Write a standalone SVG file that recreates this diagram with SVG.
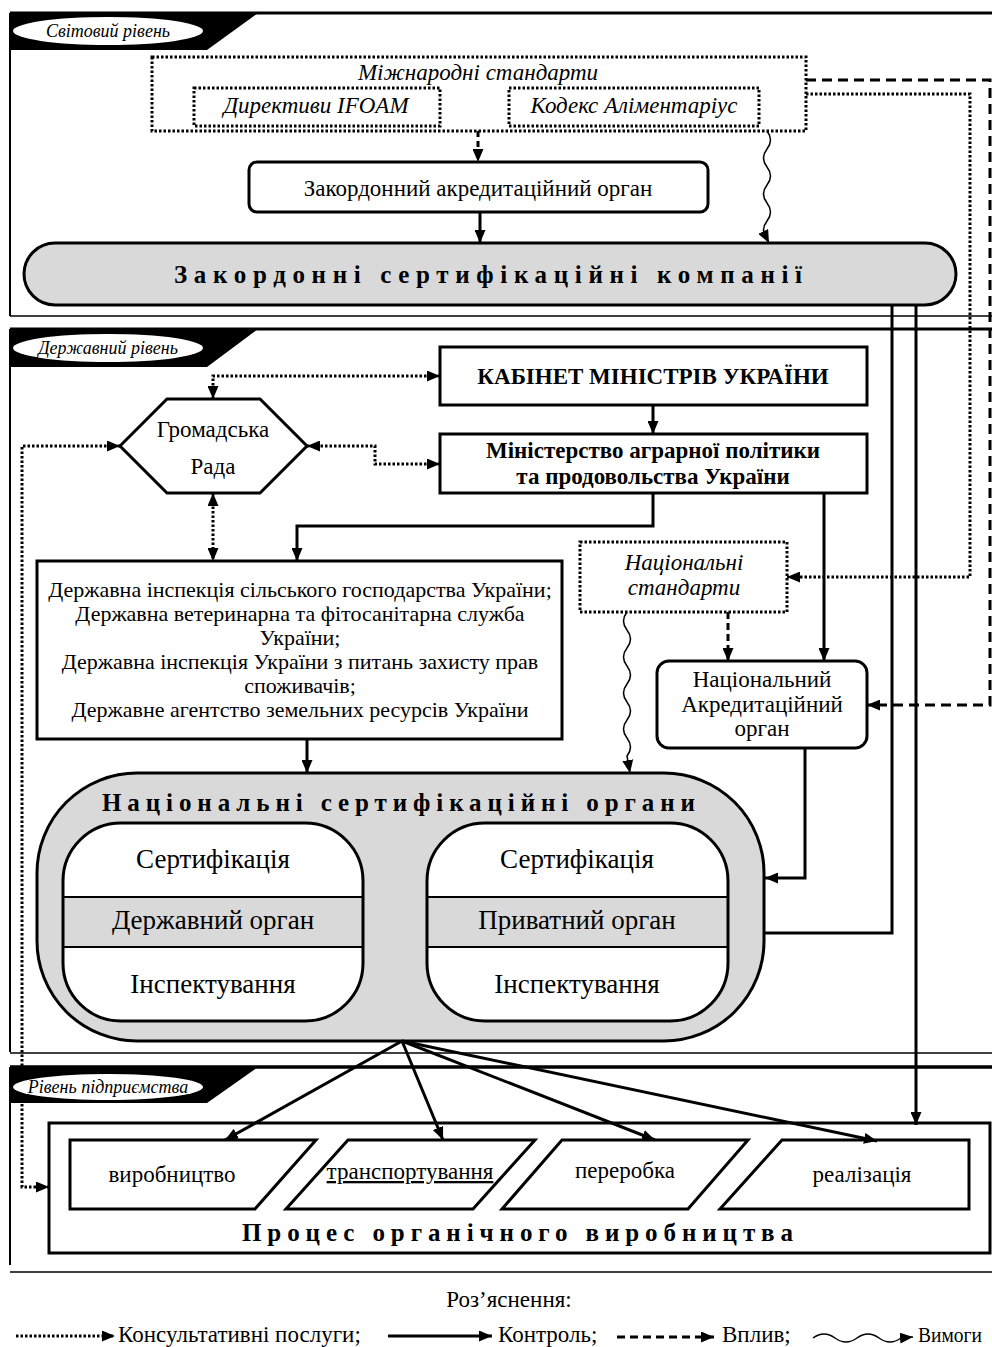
<svg xmlns="http://www.w3.org/2000/svg" width="992" height="1347" viewBox="0 0 992 1347">
<style>
.s{font-family:"Liberation Serif","Times New Roman",serif;fill:#000}
.i{font-style:italic}
.b{font-weight:bold}
.m{text-anchor:middle}
.frm{fill:none;stroke:#000}
.box{fill:#fff;stroke:#000;stroke-width:3}
.dot{fill:#fff;stroke:#000;stroke-width:3;stroke-dasharray:2.5 2}
.gray{fill:#d9d9d9;stroke:#000;stroke-width:3}
.c{fill:none;stroke:#000;stroke-width:3}
.cd{fill:none;stroke:#000;stroke-width:3;stroke-dasharray:2.5 2}
.cdash{fill:none;stroke:#000;stroke-width:3;stroke-dasharray:10 6}
.cw{fill:none;stroke:#000;stroke-width:1.5}
</style>
<defs>
<marker id="ah" viewBox="0 0 13 11" refX="13" refY="5.5" markerWidth="13" markerHeight="11" markerUnits="userSpaceOnUse" orient="auto-start-reverse">
<path d="M0,0 L13,5.5 L0,11 z" fill="#000"/>
</marker>
</defs>
<rect width="992" height="1347" fill="#fff"/>

<!-- Level frames -->
<g id="level-world">
<path class="frm" d="M10,13 H992" stroke-width="3"/>
<path class="frm" d="M10,13 V316" stroke-width="2"/>
<path class="frm" d="M10,316 H992" stroke-width="1.5"/>
<polygon points="10,13 258,13 207,50 10,50" fill="#000"/>
<ellipse cx="108" cy="31" rx="95" ry="14" fill="#fff"/>
<text class="s i m" x="108" y="37" font-size="18">Світовий рівень</text>
</g>
<g id="level-state">
<path class="frm" d="M10,329 H992" stroke-width="3"/>
<path class="frm" d="M10,329 V1052" stroke-width="2"/>
<path class="frm" d="M10,1053 H992" stroke-width="1.5"/>
<polygon points="10,329 258,329 207,367 10,367" fill="#000"/>
<ellipse cx="108" cy="348" rx="95" ry="14" fill="#fff"/>
<text class="s i m" x="108" y="354" font-size="18">Державний рівень</text>
</g>
<g id="level-enterprise">
<path class="frm" d="M10,1067 H992" stroke-width="3.5"/>
<path class="frm" d="M10,1067 V1265" stroke-width="2"/>
<path class="frm" d="M10,1272 H992" stroke-width="1.5"/>
</g>

<!-- Nodes -->
<g id="intl-standards">
<rect class="dot" x="152" y="57" width="654" height="74"/>
<text class="s i m" x="478" y="80" font-size="23">Міжнародні стандарти</text>
</g>
<g id="ifoam">
<rect class="dot" x="194" y="88" width="246" height="38"/>
<text class="s i m" x="316" y="113" font-size="23">Директиви IFOAM</text>
</g>
<g id="codex">
<rect class="dot" x="509" y="88" width="250" height="38"/>
<text class="s i m" x="634" y="113" font-size="23">Кодекс Аліментаріус</text>
</g>
<g id="foreign-accreditation">
<rect class="box" x="249" y="162" width="459" height="50" rx="8"/>
<text class="s m" x="478" y="196" font-size="23">Закордонний акредитаційний орган</text>
</g>
<g id="foreign-certification">
<rect class="gray" x="24" y="243" width="932" height="62" rx="31"/>
<text class="s b" x="174" y="283" font-size="25" textLength="628" lengthAdjust="spacing">Закордонні  сертифікаційні  компанії</text>
</g>

<g id="cabinet">
<rect class="box" x="440" y="347" width="427" height="58" stroke-width="5"/>
<text class="s b m" x="653" y="384" font-size="23">КАБІНЕТ МІНІСТРІВ УКРАЇНИ</text>
</g>
<g id="ministry">
<rect class="box" x="440" y="434" width="427" height="59" stroke-width="4"/>
<text class="s b m" x="653" y="458" font-size="23">Міністерство аграрної політики</text>
<text class="s b m" x="653" y="484" font-size="23">та продовольства України</text>
</g>
<g id="public-council">
<polygon class="box" points="120,446 167,399 260,399 307,446 260,493 167,493"/>
<text class="s m" x="213" y="437" font-size="23">Громадська</text>
<text class="s m" x="213" y="474" font-size="23">Рада</text>
</g>
<g id="state-inspections">
<rect class="box" x="37" y="561" width="525" height="178"/>
<text class="s m" x="300" y="597" font-size="22">Державна інспекція сільського господарства України;</text>
<text class="s m" x="300" y="621" font-size="22">Державна ветеринарна та фітосанітарна служба</text>
<text class="s m" x="300" y="645" font-size="22">України;</text>
<text class="s m" x="300" y="669" font-size="22">Державна інспекція України з питань захисту прав</text>
<text class="s m" x="300" y="693" font-size="22">споживачів;</text>
<text class="s m" x="300" y="717" font-size="22">Державне агентство земельних ресурсів України</text>
</g>
<g id="national-standards">
<rect class="dot" x="580" y="542" width="207" height="70"/>
<text class="s i m" x="684" y="570" font-size="23">Національні</text>
<text class="s i m" x="684" y="595" font-size="23">стандарти</text>
</g>
<g id="national-accreditation">
<rect class="box" x="657" y="661" width="210" height="87" rx="12"/>
<text class="s m" x="762" y="687" font-size="23">Національний</text>
<text class="s m" x="762" y="712" font-size="23">Акредитаційний</text>
<text class="s m" x="762" y="736" font-size="23">орган</text>
</g>
<g id="national-certification">
<rect class="gray" x="37" y="773" width="727" height="268" rx="100"/>
<text class="s b" x="102" y="811" font-size="25" textLength="593" lengthAdjust="spacing">Національні сертифікаційні органи</text>
</g>
<g id="state-body">
<rect x="63" y="823" width="300" height="198" rx="58" fill="#fff"/>
<rect x="63" y="897" width="300" height="50" fill="#d9d9d9"/>
<path d="M63,897 H363 M63,947 H363" stroke="#000" stroke-width="2"/>
<rect x="63" y="823" width="300" height="198" rx="58" fill="none" stroke="#000" stroke-width="3"/>
<text class="s m" x="213" y="868" font-size="27">Сертифікація</text>
<text class="s m" x="213" y="929" font-size="27">Державний орган</text>
<text class="s m" x="213" y="993" font-size="27">Інспектування</text>
</g>
<g id="private-body">
<rect x="427" y="823" width="301" height="198" rx="58" fill="#fff"/>
<rect x="427" y="897" width="301" height="50" fill="#d9d9d9"/>
<path d="M427,897 H728 M427,947 H728" stroke="#000" stroke-width="2"/>
<rect x="427" y="823" width="301" height="198" rx="58" fill="none" stroke="#000" stroke-width="3"/>
<text class="s m" x="577" y="868" font-size="27">Сертифікація</text>
<text class="s m" x="577" y="929" font-size="27">Приватний орган</text>
<text class="s m" x="577" y="993" font-size="27">Інспектування</text>
</g>

<g id="organic-process">
<rect class="box" x="49" y="1123" width="941" height="130"/>
<text class="s b" x="242" y="1241" font-size="25" textLength="551" lengthAdjust="spacing">Процес органічного виробництва</text>
</g>
<g id="production">
<polygon class="box" points="70,1140 316,1140 255,1209 70,1209"/>
<text class="s m" x="172" y="1182" font-size="23">виробництво</text>
</g>
<g id="transportation">
<polygon class="box" points="348,1140 535,1140 473,1209 286,1209"/>
<text class="s m" x="410" y="1179" font-size="23" text-decoration="underline">транспортування</text>
</g>
<g id="processing">
<polygon class="box" points="562,1140 748,1140 688,1209 502,1209"/>
<text class="s m" x="625" y="1178" font-size="23">переробка</text>
</g>
<g id="sales">
<polygon class="box" points="782,1140 969,1140 969,1209 720,1209"/>
<text class="s m" x="862" y="1182" font-size="23">реалізація</text>
</g>

<!-- Connectors -->
<g id="connectors">
<path class="cdash" d="M478,131 V162" style="stroke-dasharray:6 4" marker-end="url(#ah)"/>
<path class="c" d="M480,212 V243" marker-end="url(#ah)"/>
<path class="cw" d="M767,131 q7,9 0,18 t0,18 t0,18 t0,18 t0,18 t0,18 L769,243" marker-end="url(#ah)"/>
<path class="cdash" d="M806,80 H990 V705 H867" marker-end="url(#ah)"/>
<path class="cd" d="M806,94 H970 V577 H787" marker-end="url(#ah)"/>
<path class="c" d="M892,305 V933 H764"/>
<path class="c" d="M916,305 V1125" marker-end="url(#ah)"/>
<path class="c" d="M653,405 V434" marker-end="url(#ah)"/>
<path class="c" d="M653,493 V526 H297 V561" marker-end="url(#ah)"/>
<path class="c" d="M824,493 V661" marker-end="url(#ah)"/>
<path class="cd" d="M213,399 V376 H440" marker-start="url(#ah)" marker-end="url(#ah)"/>
<path class="cd" d="M307,446 H375 V464 H440" marker-start="url(#ah)" marker-end="url(#ah)"/>
<path class="cd" d="M120,446 H22 V1187 H49" marker-start="url(#ah)" marker-end="url(#ah)"/>
<path class="cd" d="M213,493 V561" marker-start="url(#ah)" marker-end="url(#ah)"/>
<path class="c" d="M307,739 V773" marker-end="url(#ah)"/>
<path class="cdash" d="M728,612 V661" style="stroke-dasharray:7 4" marker-end="url(#ah)"/>
<path class="cw" d="M627,612 q-7,9 0,18 t0,18 t0,18 t0,18 t0,18 t0,18 t0,18 t0,18 L630,773" marker-end="url(#ah)"/>
<path class="c" d="M805,748 V878 H765" marker-end="url(#ah)"/>
<path class="c" d="M402,1041 L225,1140" marker-end="url(#ah)"/>
<path class="c" d="M402,1041 L443,1140" marker-end="url(#ah)"/>
<path class="c" d="M402,1041 L655,1140" marker-end="url(#ah)"/>
<path class="c" d="M402,1041 L877,1141" marker-end="url(#ah)"/>
</g>

<g id="level-enterprise-label">
<polygon points="10,1067 258,1067 207,1103 10,1103" fill="#000"/>
<ellipse cx="108" cy="1087" rx="95" ry="13" fill="#fff"/>
<text class="s i m" x="108" y="1093" font-size="18">Рівень підприємства</text>
</g>

<!-- Legend -->
<g id="legend">
<text class="s m" x="509" y="1307" font-size="23">Роз’яснення:</text>
<path class="cd" d="M16,1336 H115" stroke-width="2.5" marker-end="url(#ah)"/>
<text class="s" x="118" y="1342" font-size="23">Консультативні послуги;</text>
<path class="c" d="M388,1336 H492" marker-end="url(#ah)"/>
<text class="s" x="498" y="1342" font-size="23">Контроль;</text>
<path class="cdash" d="M617,1337 H714" style="stroke-dasharray:8 5" marker-end="url(#ah)"/>
<text class="s" x="722" y="1342" font-size="23">Вплив;</text>
<path class="cw" d="M813,1338 q11,-8 22,0 t22,0 t22,0 t22,0 L913,1337" marker-end="url(#ah)"/>
<text class="s" x="918" y="1342" font-size="22" textLength="64" lengthAdjust="spacingAndGlyphs">Вимоги</text>
</g>
</svg>
